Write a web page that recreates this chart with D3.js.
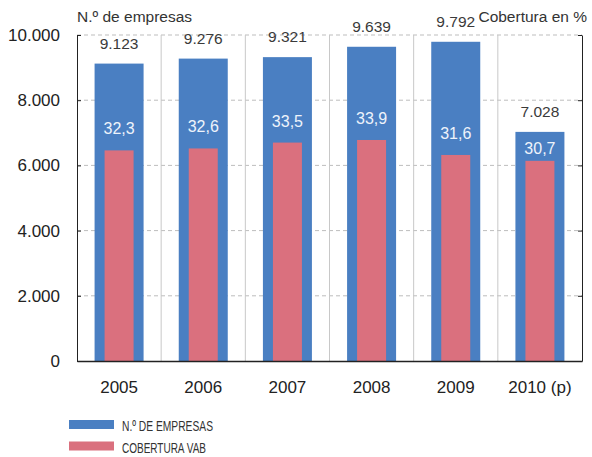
<!DOCTYPE html>
<html>
<head>
<meta charset="utf-8">
<script src="https://cdn.jsdelivr.net/npm/d3@7"></script>
<style>
  body { margin: 0; background: #fff; }
  text { font-family: "Liberation Sans", Arial, sans-serif; }
</style>
</head>
<body>
<svg id="chart"></svg>
<script>
const years = ["2005", "2006", "2007", "2008", "2009", "2010 (p)"];
const empresas = [9123, 9276, 9321, 9639, 9792, 7028];
const cobertura = [32.3, 32.6, 33.5, 33.9, 31.6, 30.7];
const leftTicks = [0, 2000, 4000, 6000, 8000, 10000];
const rightTicks = [0, 10, 20, 30, 40, 50];
const legendLabels = ["N.º DE EMPRESAS", "COBERTURA VAB"];

const width = 592, height = 457;
const margin = {top: 35, right: 10, bottom: 96, left: 77};
const chart_width = width - margin.left - margin.right;
const chart_height = height - margin.top - margin.bottom;

const blue = "#4a7fc2";
const pink = "#da707e";

const fmtEmp = d3.formatLocale({decimal: ",", thousands: ".", grouping: [3], currency: ["", "€"]}).format(",d");
const fmtPct = d => String(d).replace(".", ",");

const svg = d3.select("#chart")
    .attr("width", width)
    .attr("height", height);

const g = svg.append("g")
    .attr("transform", `translate(${margin.left},${margin.top})`);

const x = d3.scaleBand()
    .domain(years)
    .range([0, chart_width]);

const y = d3.scaleLinear()
    .domain([0, 10000])
    .range([chart_height, 0]);

const y2 = d3.scaleLinear()
    .domain([0, 50])
    .range([chart_height, 0]);

// horizontal dashed grid
g.append("g")
    .attr("stroke", "#bdbdbd")
    .attr("stroke-dasharray", "4,3")
    .selectAll("line")
    .data(leftTicks.filter(d => d > 0))
    .enter().append("line")
    .attr("x1", 0)
    .attr("x2", chart_width)
    .attr("y1", d => y(d))
    .attr("y2", d => y(d));

// vertical separators between years
g.append("g")
    .attr("stroke", "#c8c8c8")
    .selectAll("line")
    .data(years.slice(1))
    .enter().append("line")
    .attr("x1", d => x(d))
    .attr("x2", d => x(d))
    .attr("y1", 0)
    .attr("y2", chart_height);

const blueW = 49, pinkW = 29;

g.append("g")
    .selectAll("rect")
    .data(years)
    .enter().append("rect")
    .attr("fill", blue)
    .attr("x", d => x(d) + x.bandwidth() / 2 - blueW / 2)
    .attr("width", blueW)
    .attr("y", (d, i) => y(empresas[i]))
    .attr("height", (d, i) => chart_height - y(empresas[i]));

g.append("g")
    .selectAll("rect")
    .data(years)
    .enter().append("rect")
    .attr("fill", pink)
    .attr("x", d => x(d) + x.bandwidth() / 2 - pinkW / 2)
    .attr("width", pinkW)
    .attr("y", (d, i) => y2(cobertura[i]))
    .attr("height", (d, i) => chart_height - y2(cobertura[i]));

// value labels
g.append("g")
    .attr("font-size", 15.5)
    .attr("fill", "#3a3a3a")
    .attr("text-anchor", "middle")
    .selectAll("text")
    .data(years)
    .enter().append("text")
    .attr("x", d => x(d) + x.bandwidth() / 2)
    .attr("y", (d, i) => y(empresas[i]) - 15)
    .text((d, i) => fmtEmp(empresas[i]));

g.append("g")
    .attr("font-size", 16)
    .attr("fill", "#eef3fb")
    .attr("text-anchor", "middle")
    .selectAll("text")
    .data(years)
    .enter().append("text")
    .attr("x", d => x(d) + x.bandwidth() / 2)
    .attr("y", (d, i) => Math.max(y2(cobertura[i]) - 16, y(empresas[i]) + 22))
    .text((d, i) => fmtPct(cobertura[i]));

// left axis
const yAxis = g.append("g")
    .call(d3.axisLeft(y).tickValues(leftTicks).tickSizeInner(-4).tickSizeOuter(0).tickPadding(17)
        .tickFormat(d => fmtEmp(d)));
yAxis.select(".domain").attr("stroke", "#222");
yAxis.selectAll(".tick line").attr("stroke", "#222");
yAxis.selectAll(".tick text")
    .attr("font-size", 17)
    .attr("fill", "#222")
    .attr("font-family", "'Liberation Sans', Arial, sans-serif");

// right axis (ticks only)
const y2Axis = g.append("g")
    .attr("transform", `translate(${chart_width},0)`)
    .call(d3.axisRight(y2).tickValues(rightTicks).tickSizeInner(-4).tickSizeOuter(0).tickFormat(""));
y2Axis.select(".domain").attr("stroke", "#222");
y2Axis.selectAll(".tick line").attr("stroke", "#222");

// bottom axis
const xAxis = g.append("g")
    .attr("transform", `translate(0,${chart_height})`)
    .call(d3.axisBottom(x).tickSize(0).tickPadding(20));
xAxis.select(".domain").attr("stroke", "#222").attr("stroke-width", 1.3);
xAxis.selectAll(".tick text")
    .attr("font-size", 17)
    .attr("fill", "#222")
    .attr("font-family", "'Liberation Sans Narrow', 'Liberation Sans', Arial, sans-serif");

// axis titles
svg.append("text")
    .attr("x", margin.left)
    .attr("y", 22)
    .attr("font-size", 15.5)
    .attr("fill", "#333")
    .text("N.º de empresas");

svg.append("text")
    .attr("x", 587)
    .attr("y", 22)
    .attr("font-size", 15.5)
    .attr("fill", "#333")
    .attr("text-anchor", "end")
    .text("Cobertura en %");

// legend
const legend = svg.append("g")
    .attr("transform", "translate(69,420)")
    .selectAll("g")
    .data(legendLabels)
    .enter().append("g")
    .attr("transform", (d, i) => `translate(0,${i * 21.5})`);

legend.append("rect")
    .attr("width", 45)
    .attr("height", 9)
    .attr("fill", (d, i) => i === 0 ? blue : pink);

legend.append("text")
    .attr("x", 53)
    .attr("y", 11)
    .attr("font-size", 15.5)
    .attr("fill", "#333")
    .attr("font-family", "'Liberation Sans Narrow', 'Liberation Sans', Arial, sans-serif")
    .attr("textLength", (d, i) => i === 0 ? 91 : 84)
    .attr("lengthAdjust", "spacingAndGlyphs")
    .text(d => d);
</script>
</body>
</html>
